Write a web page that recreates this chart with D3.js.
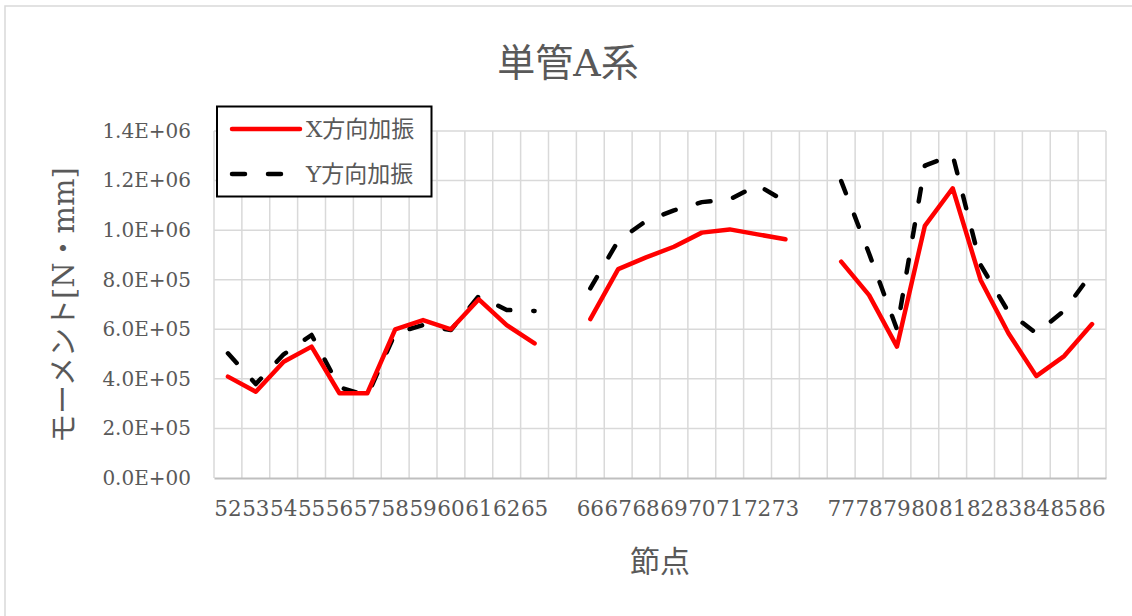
<!DOCTYPE html>
<html>
<head>
<meta charset="utf-8">
<script src="https://cdn.jsdelivr.net/npm/d3@7"></script>
<style>
  html, body { margin: 0; padding: 0; background: #fff; }
  svg { display: block; }
</style>
</head>
<body>
<svg id="chart" width="1132" height="616"></svg>
<script>
// ---- data ----
const categories = ["52","53","54","55","56","57","58","59","60","61","62","65","",
  "66","67","68","69","70","71","72","73","",
  "77","78","79","80","81","82","83","84","85","86"];
const xDirection = [409000, 348000, 469000, 530000, 342000, 342000, 600000, 637000, 600000, 721000, 617000, 543000, null,
  641000, 843000, 890000, 933000, 990000, 1003000, 983000, 963000, null,
  873000, 738000, 530000, 1017000, 1169000, 799000, 584000, 411000, 492000, 621000];
const yDirection = [503000, 379000, 499000, 577000, 366000, 332000, 584000, 617000, 597000, 734000, 678000, 674000, null,
  765000, 957000, 1037000, 1080000, 1113000, 1124000, 1182000, 1115000, null,
  1198000, 906000, 600000, 1260000, 1303000, 860000, 670000, 584000, 675000, 828000];
const yTicks = [0, 200000, 400000, 600000, 800000, 1000000, 1200000, 1400000];
const seriesNames = ["X方向加振", "Y方向加振"];
const title = "単管A系";
const xTitle = "節点";
const yTitle = "モーメント[N・mm]";

// ---- layout ----
const W = 1132, H = 616;
const plot = { left: 214, right: 1106, top: 131, bottom: 478 };
const textColor = "#595959";
const serif = "'DejaVu Serif', 'Noto Sans CJK JP', serif";

const svg = d3.select("#chart");

// chart border
svg.append("rect").attr("x", 5).attr("y", 6).attr("width", 1140).attr("height", 640)
  .attr("fill", "#fff").attr("stroke", "#d9d9d9").attr("stroke-width", 1.5);

const idx = categories.map((d, i) => i);
const x = d3.scaleBand().domain(idx).range([plot.left, plot.right]).padding(0);
const y = d3.scaleLinear().domain([0, 1400000]).range([plot.bottom, plot.top]);

// horizontal gridlines
svg.append("g").selectAll("line").data(yTicks.slice(1)).join("line")
  .attr("x1", plot.left).attr("x2", plot.right)
  .attr("y1", d => y(d)).attr("y2", d => y(d))
  .attr("stroke", "#d9d9d9").attr("stroke-width", 1.5);

// vertical gridlines at category boundaries
const bounds = idx.map(i => x(i)).concat([plot.right]);
svg.append("g").selectAll("line").data(bounds).join("line")
  .attr("x1", d => d).attr("x2", d => d)
  .attr("y1", plot.top).attr("y2", plot.bottom)
  .attr("stroke", "#d9d9d9").attr("stroke-width", 1.5);

// x axis
const fmtE = d => {
  if (d === 0) return "0.0E+00";
  const e = Math.floor(Math.log10(d));
  const m = d / Math.pow(10, e);
  return m.toFixed(1) + "E+" + String(e).padStart(2, "0");
};

const xAxis = svg.append("g").attr("transform", `translate(0,${plot.bottom})`)
  .call(d3.axisBottom(x).tickSize(0).tickPadding(23).tickFormat(i => categories[i]));
xAxis.select(".domain").attr("stroke", "#bfbfbf").attr("stroke-width", 2);
xAxis.selectAll("text").attr("font-family", serif).attr("font-size", 21.5)
  .attr("fill", textColor);

// y axis
const yAxis = svg.append("g").attr("transform", `translate(${plot.left},0)`)
  .call(d3.axisLeft(y).tickValues(yTicks).tickSize(0).tickPadding(23).tickFormat(fmtE));
yAxis.select(".domain").remove();
yAxis.selectAll("text").attr("font-family", serif).attr("font-size", 20)
  .attr("fill", textColor);

// lines
const line = d3.line()
  .defined(d => d != null)
  .x((d, i) => x(i) + x.bandwidth() / 2)
  .y(d => y(d));

svg.append("path").datum(yDirection)
  .attr("d", line).attr("fill", "none")
  .attr("stroke", "#000").attr("stroke-width", 4.5)
  .attr("stroke-dasharray", "13,23").attr("stroke-linecap", "round")
  .attr("stroke-linejoin", "round");

svg.append("path").datum(xDirection)
  .attr("d", line).attr("fill", "none")
  .attr("stroke", "#ff0000").attr("stroke-width", 4.5)
  .attr("stroke-linecap", "round").attr("stroke-linejoin", "round");

// title
svg.append("text").attr("x", 568).attr("y", 76).attr("text-anchor", "middle")
  .attr("font-family", serif).attr("font-size", 38).attr("fill", textColor)
  .text(title);

// axis titles
svg.append("text").attr("x", (plot.left + plot.right) / 2).attr("y", 572)
  .attr("text-anchor", "middle").attr("font-family", serif).attr("font-size", 30)
  .attr("fill", textColor).text(xTitle);

svg.append("text")
  .attr("transform", `translate(74,305) rotate(-90)`)
  .attr("text-anchor", "middle").attr("font-family", serif).attr("font-size", 29)
  .attr("fill", textColor).text(yTitle);

// legend
const lg = svg.append("g");
lg.append("rect").attr("x", 217).attr("y", 106.5).attr("width", 214.5).attr("height", 90)
  .attr("fill", "#fff").attr("stroke", "#000").attr("stroke-width", 2);
const legendItems = [
  { name: seriesNames[0], color: "#ff0000", dash: null, y: 129 },
  { name: seriesNames[1], color: "#000", dash: "13,23", y: 174 }
];
legendItems.forEach(it => {
  lg.append("line").attr("x1", 232).attr("x2", 300).attr("y1", it.y).attr("y2", it.y)
    .attr("stroke", it.color).attr("stroke-width", 4.5).attr("stroke-linecap", "round")
    .attr("stroke-dasharray", it.dash);
  lg.append("text").attr("x", 306).attr("y", it.y + 8).attr("font-family", serif)
    .attr("font-size", 23).attr("fill", textColor).text(it.name);
});
</script>
</body>
</html>
